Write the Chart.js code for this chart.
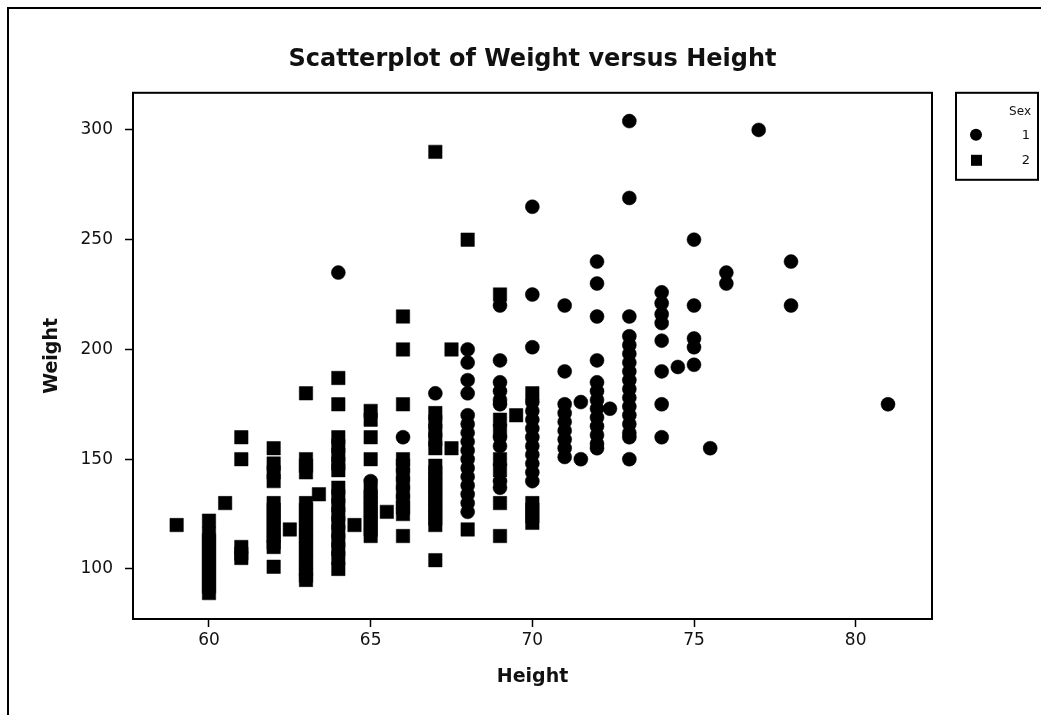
<!DOCTYPE html>
<html>
<head>
<meta charset="utf-8">
<script src="https://cdn.jsdelivr.net/npm/chart.js@4/dist/chart.umd.min.js"></script>
<style>
  html, body { margin: 0; padding: 0; background: #fff; }
  #wrap { position: relative; width: 1041px; height: 715px; }
  canvas { display: block; }
</style>
</head>
<body>
<div id="wrap"><canvas id="c" width="1041" height="715"></canvas></div>
<script>
// ---- data ----
const xTicks = [60, 65, 70, 75, 80];
const yTicks = [100, 150, 200, 250, 300];

// Sex 1 (circles): heights and the weights observed at each height
const sex1Heights = [64, 65, 66, 67, 68, 69, 70, 71, 71.5, 72, 72.4, 73, 74, 74.5, 75, 75.5, 76, 77, 78, 81];
const sex1Weights = [
  [235],
  [140],
  [160],
  [180],
  [200, 194, 186, 180, 170, 166, 162, 158, 154, 150, 146, 142, 138, 134, 130, 126],
  [220, 195, 185, 181, 177, 175, 160, 156, 140, 137],
  [265, 225, 201, 176, 172, 168, 164, 160, 156, 152, 148, 144, 140],
  [220, 190, 175, 171, 167, 163, 159, 155, 151],
  [176, 150],
  [240, 230, 215, 195, 185, 181, 177, 173, 169, 165, 161, 157, 155],
  [173],
  [304, 269, 215, 206, 202, 198, 194, 190, 186, 182, 178, 174, 170, 166, 162, 160, 150],
  [226, 221, 216, 212, 204, 190, 175, 160],
  [192],
  [250, 220, 205, 201, 193],
  [155],
  [235, 230],
  [300],
  [240, 220],
  [175]
];

// Sex 2 (squares)
const sex2Heights = [59, 60, 60.5, 61, 62, 62.5, 63, 63.4, 64, 64.5, 65, 65.5, 66, 67, 67.5, 68, 69, 69.5, 70];
const sex2Weights = [
  [120],
  [122, 116, 113, 110, 107, 104, 101, 98, 95, 92, 89],
  [130],
  [160, 150, 110, 107, 105],
  [155, 148, 144, 140, 130, 127, 124, 121, 118, 115, 112, 110, 101],
  [118],
  [180, 150, 147, 144, 130, 127, 124, 121, 118, 115, 112, 109, 106, 103, 100, 97, 95],
  [134],
  [187, 175, 160, 156, 152, 148, 145, 137, 133, 129, 125, 121, 117, 113, 109, 105, 100],
  [120],
  [172, 168, 160, 150, 136, 133, 130, 127, 124, 121, 118, 115],
  [126],
  [215, 200, 175, 150, 147, 143, 139, 135, 131, 128, 125, 115],
  [290, 171, 167, 163, 159, 155, 147, 144, 141, 138, 135, 132, 129, 126, 123, 120, 104],
  [200, 155],
  [250, 118],
  [225, 168, 163, 150, 145, 130, 115],
  [170],
  [180, 130, 127, 124, 121]
];

const seriesLabels = ['1', '2'];
const legendTitle = 'Sex';

function toPoints(heights, weights) {
  const pts = [];
  heights.forEach((h, i) => weights[i].forEach(w => pts.push({ x: h, y: w })));
  return pts;
}

const FONT = "'DejaVu Sans', Verdana, sans-serif";

const framePlugin = {
  id: 'frameAndLegend',
  beforeDraw(chart) {
    const ctx = chart.ctx;
    ctx.save();
    ctx.fillStyle = '#fff';
    ctx.fillRect(0, 0, chart.width, chart.height);
    ctx.strokeStyle = '#000';
    ctx.lineWidth = 2;
    ctx.beginPath();
    ctx.moveTo(8, chart.height + 5);
    ctx.lineTo(8, 8);
    ctx.lineTo(chart.width + 5, 8);
    ctx.stroke();
    ctx.restore();
  },
  afterDraw(chart) {
    const ctx = chart.ctx;
    const a = chart.chartArea;
    ctx.save();
    // plot box
    ctx.strokeStyle = '#000';
    ctx.lineWidth = 2;
    ctx.strokeRect(a.left, a.top, a.right - a.left, a.bottom - a.top);
    // legend box
    const lx = a.right + 24, ly = a.top, lw = 82, lh = 87;
    ctx.strokeRect(lx, ly, lw, lh);
    ctx.fillStyle = '#111';
    ctx.font = '12px ' + FONT;
    ctx.textAlign = 'right';
    ctx.textBaseline = 'middle';
    ctx.fillText(legendTitle, lx + lw - 7, ly + 19);
    ctx.font = '13px ' + FONT;
    chart.data.datasets.forEach((ds, i) => {
      const yy = ly + 42 + i * 25;
      ctx.fillStyle = '#000';
      if (ds.pointStyle === 'circle') {
        ctx.beginPath();
        ctx.arc(lx + 20, yy, 6, 0, Math.PI * 2);
        ctx.fill();
      } else {
        ctx.fillRect(lx + 15, yy - 5, 11, 11);
      }
      ctx.fillStyle = '#111';
      ctx.fillText(ds.label, lx + lw - 8, yy + 1);
    });
    ctx.restore();
  }
};

new Chart(document.getElementById('c'), {
  type: 'scatter',
  data: {
    datasets: [
      {
        label: seriesLabels[0],
        data: toPoints(sex1Heights, sex1Weights),
        pointStyle: 'circle',
        pointRadius: 7,
        pointBorderWidth: 0.5,
        backgroundColor: '#000',
        borderColor: '#000'
      },
      {
        label: seriesLabels[1],
        data: toPoints(sex2Heights, sex2Weights),
        pointStyle: 'rect',
        pointRadius: 9.5,
        pointBorderWidth: 0.5,
        backgroundColor: '#000',
        borderColor: '#000'
      }
    ]
  },
  options: {
    responsive: false,
    animation: false,
    events: [],
    layout: { padding: { left: 0, right: 109, top: 0, bottom: 0 } },
    plugins: {
      legend: { display: false },
      tooltip: { enabled: false },
      title: {
        display: true,
        fullSize: false,
        text: 'Scatterplot of Weight versus Height',
        color: '#111',
        font: { family: FONT, size: 24, weight: 'bold', lineHeight: 1.2 },
        padding: { top: 45, bottom: 19 }
      }
    },
    scales: {
      x: {
        type: 'linear',
        min: 57.65,
        max: 82.36,
        afterBuildTicks(s) { s.ticks = xTicks.map(v => ({ value: v })); },
        afterFit(s) { s.height = 96; },
        grid: { display: true, drawOnChartArea: false, drawTicks: true, tickLength: 8, tickColor: '#000', tickWidth: 1.5 },
        border: { display: true, color: '#000', width: 2 },
        ticks: { color: '#111', padding: 3, font: { family: FONT, size: 17 }, maxRotation: 0, autoSkip: false,
                 callback: v => String(v) },
        title: { display: true, text: 'Height', color: '#111',
                 font: { family: FONT, size: 19, weight: 'bold', lineHeight: 1.2 },
                 padding: { top: 0, bottom: 27 } }
      },
      y: {
        type: 'linear',
        min: 77.2,
        max: 316.9,
        afterBuildTicks(s) { s.ticks = yTicks.map(v => ({ value: v })); },
        afterFit(s) { s.width = 133; },
        grid: { display: true, drawOnChartArea: false, drawTicks: true, tickLength: 8, tickColor: '#000', tickWidth: 1.5 },
        border: { display: true, color: '#000', width: 2 },
        ticks: { color: '#111', padding: 12, font: { family: FONT, size: 17 }, autoSkip: false,
                 callback: v => String(v) },
        title: { display: true, text: 'Weight', color: '#111',
                 font: { family: FONT, size: 19, weight: 'bold', lineHeight: 1.2 },
                 padding: { top: 41, bottom: 0 } }
      }
    }
  },
  plugins: [framePlugin]
});
</script>
</body>
</html>
